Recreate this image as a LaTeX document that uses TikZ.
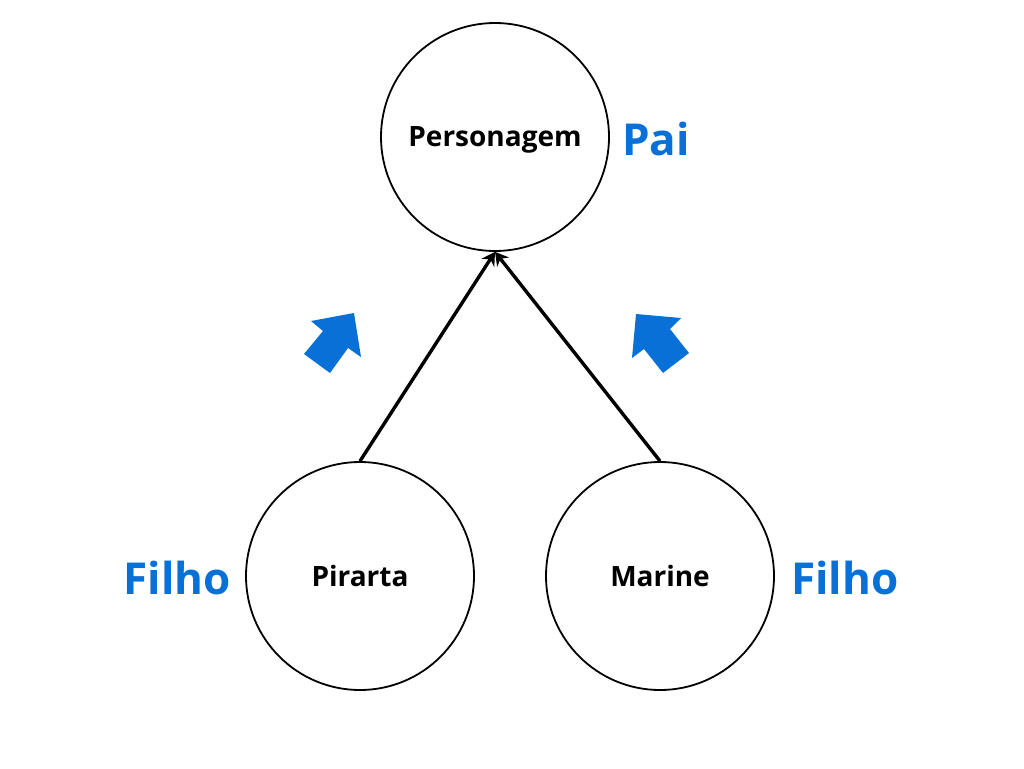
\documentclass[tikz,border=0pt]{standalone}
\usepackage{fontspec}
\setmainfont{Open Sans}
\usetikzlibrary{arrows.meta}
\definecolor{bl}{RGB}{8,112,214}
\begin{document}
\begin{tikzpicture}[x=1pt,y=-1pt,
  circ/.style={circle,draw=black,line width=1.8pt,minimum size=228pt,inner sep=0pt,text depth=0pt,font=\bfseries\fontsize{28}{32}\selectfont},
  lbl/.style={text=bl,font=\bfseries\fontsize{44}{50}\selectfont,inner sep=0pt},
  conn/.style={line width=3.4pt,-{Stealth[length=13pt,width=15pt]}},
  blk/.style={fill=bl,draw=none}]
\useasboundingbox (0,0) rectangle (1024,768);
\node[circ] (per) at (495,137) {Personagem};
\node[circ] (pir) at (360,576) {Pirarta};
\node[circ] (mar) at (660,576) {Marine};
\node[lbl,anchor=west] (pai) at (622,139) {Pai};
\node[lbl,anchor=east] (f1) at (231,578) {Filho};
\node[lbl,anchor=west] (f2) at (791,578) {Filho};
\draw[conn] (pir.north) -- (per.south);
\draw[conn] (mar.north) -- (per.south);
\fill[blk] (354,313) -- (311,321) -- (323,331) -- (304,354) -- (330,373) -- (348,348) -- (361,357) -- cycle;
\fill[blk] (636,314) -- (681,318) -- (670,329) -- (689,353) -- (663,373) -- (644,349) -- (632,358) -- cycle;
\end{tikzpicture}
\end{document}
